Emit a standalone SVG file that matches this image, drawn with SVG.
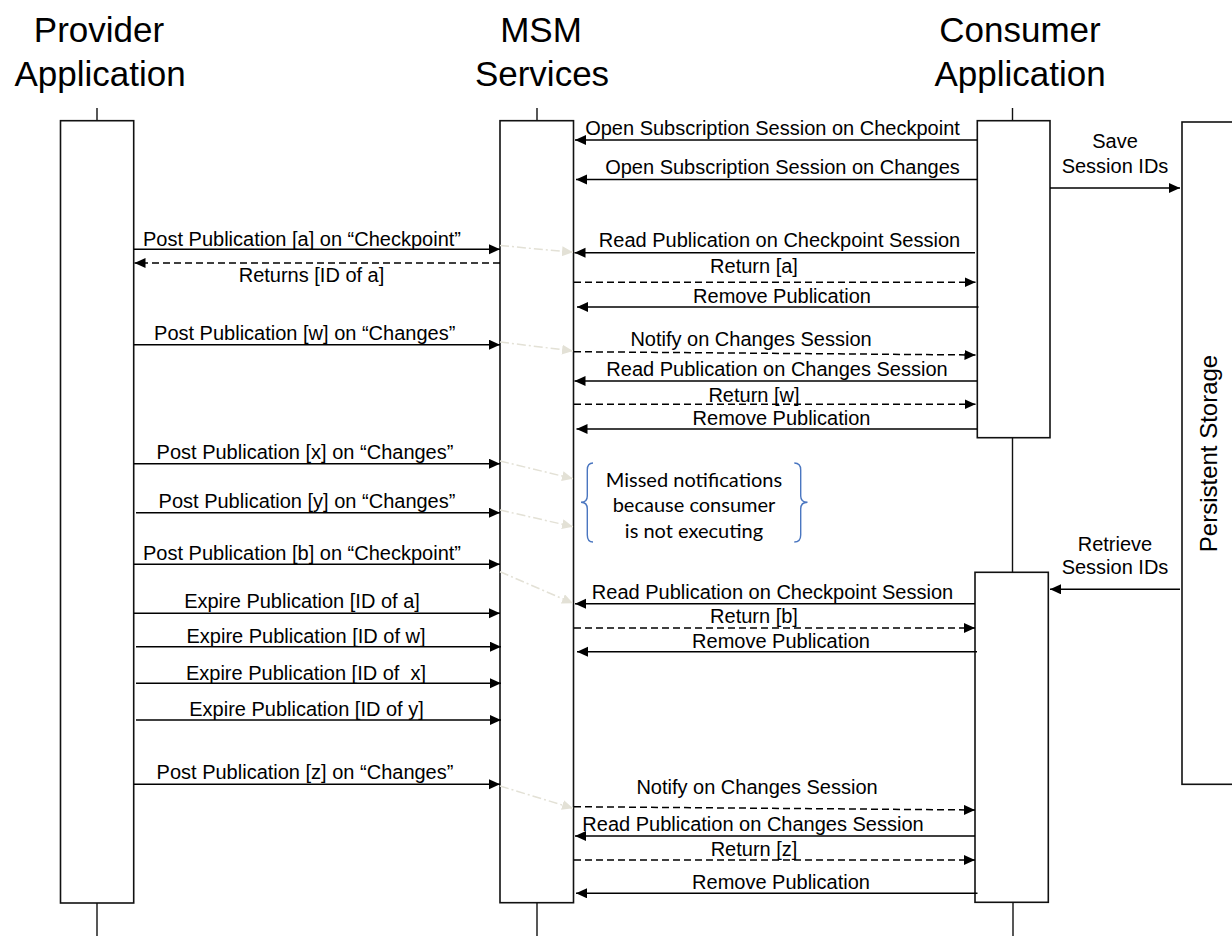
<svg xmlns="http://www.w3.org/2000/svg" width="1232" height="936" viewBox="0 0 1232 936">
  <style>
    .hdr { font-family: "Liberation Sans", Arial, sans-serif; font-size: 35px; fill: #000; text-anchor: middle; }
    .lbl { font-family: "Liberation Sans", Arial, sans-serif; font-size: 20px; fill: #000; text-anchor: middle; }
    .note { font-family: Lato, "Open Sans", sans-serif; font-size: 20px; fill: #000; text-anchor: middle; }
    .box { fill: #fff; stroke: #111; stroke-width: 1.6; }
    .life { stroke: #111; stroke-width: 1.4; fill: none; }
    .msg { stroke: #000; stroke-width: 1.5; fill: none; marker-end: url(#arrow); }
    .ret { stroke: #000; stroke-width: 1.5; fill: none; stroke-dasharray: 7 4; marker-end: url(#arrow); }
    .hint { stroke: #e3e1d6; stroke-width: 1.5; fill: none; stroke-dasharray: 9 3 2 3; marker-end: url(#arrowFaint); }
    .brace { stroke: #4a76c0; stroke-width: 1.4; fill: none; }
  </style>
  <defs>
    <marker id="arrow" markerUnits="userSpaceOnUse" markerWidth="12" markerHeight="12" refX="11" refY="5" orient="auto">
      <path d="M0,0 L11,5 L0,10 z" fill="#000"/>
    </marker>
    <marker id="arrowFaint" markerUnits="userSpaceOnUse" markerWidth="12" markerHeight="12" refX="11" refY="5" orient="auto">
      <path d="M0,0 L11,5 L0,10 z" fill="#e3e1d6"/>
    </marker>
  </defs>

  <rect width="1232" height="936" fill="#fff"/>

  <!-- Provider Application lifeline -->
  <g id="provider">
    <text class="hdr" x="99" y="42">Provider</text>
    <text class="hdr" x="100" y="86">Application</text>
    <line class="life" x1="97" y1="108" x2="97" y2="121"/>
    <line class="life" x1="97" y1="903" x2="97" y2="936"/>
    <rect class="box" x="60.5" y="120.7" width="73.2" height="782.3"/>
  </g>

  <!-- MSM Services lifeline -->
  <g id="msm">
    <text class="hdr" x="541" y="42">MSM</text>
    <text class="hdr" x="542" y="86">Services</text>
    <line class="life" x1="537" y1="108" x2="537" y2="121"/>
    <line class="life" x1="537" y1="903" x2="537" y2="936"/>
    <rect class="box" x="500" y="120.7" width="73.5" height="782"/>
  </g>

  <!-- Consumer Application lifeline: two activations -->
  <g id="consumer">
    <text class="hdr" x="1020" y="42">Consumer</text>
    <text class="hdr" x="1020" y="86">Application</text>
    <line class="life" x1="1012.5" y1="108" x2="1012.5" y2="121"/>
    <line class="life" x1="1012.5" y1="437.7" x2="1012.5" y2="572.3"/>
    <line class="life" x1="1013" y1="902.3" x2="1013" y2="936"/>
    <rect class="box" x="977.3" y="120.7" width="72.7" height="317"/>
    <rect class="box" x="975" y="572.3" width="73.3" height="330"/>
  </g>

  <!-- Persistent Storage -->
  <g id="storage">
    <rect class="box" x="1182" y="122" width="70" height="662.3"/>
    <text class="lbl" style="font-size:24px" transform="translate(1217,453.5) rotate(-90)">Persistent Storage</text>
  </g>

  <!-- Missed notifications note -->
  <g id="missed-note">
    <path class="brace" d="M593,463 Q587.3,463 587.3,470 L587.3,496 Q587.3,502.3 581,502.3 Q587.3,502.3 587.3,509 L587.3,535 Q587.3,542 593,542"/>
    <path class="brace" d="M794.3,463 Q800.7,463 800.7,470 L800.7,496 Q800.7,502.3 807.5,502.3 Q800.7,502.3 800.7,509 L800.7,535 Q800.7,542 794.3,542"/>
    <text class="note" x="694" y="486.7">Missed notifications</text>
    <text class="note" x="694" y="512">because consumer</text>
    <text class="note" x="694" y="537.7">is not executing</text>
  </g>

  <!-- Messages -->
  <g id="connectors">
    <!-- consumer subscribes -->
    <line class="msg" x1="977" y1="140" x2="575" y2="140"/>
    <text class="lbl" x="772.5" y="135">Open Subscription Session on Checkpoint</text>
    <line class="msg" x1="977" y1="179.5" x2="576" y2="179.5"/>
    <text class="lbl" x="782.5" y="174">Open Subscription Session on Changes</text>

    <!-- session ids to storage -->
    <line class="msg" x1="1050" y1="188" x2="1180" y2="188"/>
    <text class="lbl" x="1115" y="148.3">Save</text>
    <text class="lbl" x="1115" y="173.3">Session IDs</text>

    <!-- publication [a] -->
    <line class="msg" x1="134" y1="249.3" x2="500" y2="249.3"/>
    <text class="lbl" x="302" y="245.5">Post Publication [a] on “Checkpoint”</text>
    <line class="ret" x1="500" y1="263" x2="134.5" y2="263"/>
    <text class="lbl" x="311.5" y="281.7">Returns [ID of a]</text>
    <line class="hint" x1="500" y1="245.5" x2="573" y2="252.3"/>

    <line class="msg" x1="975" y1="252.7" x2="574.5" y2="252.7"/>
    <text class="lbl" x="779.5" y="247">Read Publication on Checkpoint Session</text>
    <line class="ret" x1="574" y1="282.3" x2="975.5" y2="282.3"/>
    <text class="lbl" x="754" y="273">Return [a]</text>
    <line class="msg" x1="978.5" y1="307" x2="577" y2="307"/>
    <text class="lbl" x="782" y="303">Remove Publication</text>

    <!-- publication [w] -->
    <line class="msg" x1="134" y1="344.7" x2="500" y2="344.7"/>
    <text class="lbl" x="304.7" y="340">Post Publication [w] on “Changes”</text>
    <line class="hint" x1="500" y1="342" x2="573" y2="351"/>

    <line class="ret" x1="574" y1="351.7" x2="975.5" y2="355"/>
    <text class="lbl" x="751" y="346">Notify on Changes Session</text>
    <line class="msg" x1="977" y1="381" x2="574.5" y2="381"/>
    <text class="lbl" x="777" y="376">Read Publication on Changes Session</text>
    <line class="ret" x1="574" y1="404.3" x2="975.5" y2="404.3"/>
    <text class="lbl" x="754" y="401.5">Return [w]</text>
    <line class="msg" x1="977" y1="429" x2="576.5" y2="429"/>
    <text class="lbl" x="781.5" y="425">Remove Publication</text>

    <!-- publications while the consumer is down -->
    <line class="msg" x1="134" y1="463.7" x2="500" y2="463.7"/>
    <text class="lbl" x="305" y="459.3">Post Publication [x] on “Changes”</text>
    <line class="hint" x1="500" y1="461" x2="573" y2="478.7"/>
    <line class="msg" x1="136" y1="512.7" x2="500" y2="512.7"/>
    <text class="lbl" x="307" y="508">Post Publication [y] on “Changes”</text>
    <line class="hint" x1="500" y1="510" x2="573" y2="526.7"/>
    <line class="msg" x1="134" y1="564.3" x2="500" y2="564.3"/>
    <text class="lbl" x="302" y="560">Post Publication [b] on “Checkpoint”</text>
    <line class="hint" x1="500" y1="571.7" x2="573" y2="603.3"/>

    <!-- expirations -->
    <line class="msg" x1="134" y1="613.3" x2="500" y2="613.3"/>
    <text class="lbl" x="302" y="608">Expire Publication [ID of a]</text>
    <line class="msg" x1="136" y1="646.7" x2="501" y2="646.7"/>
    <text class="lbl" x="306" y="642.7">Expire Publication [ID of w]</text>
    <line class="msg" x1="136" y1="683.3" x2="501" y2="683.3"/>
    <text class="lbl" x="306" y="680" xml:space="preserve">Expire Publication [ID of  x]</text>
    <line class="msg" x1="136" y1="720" x2="501" y2="720"/>
    <text class="lbl" x="306.5" y="716">Expire Publication [ID of y]</text>

    <!-- consumer restarts -->
    <line class="msg" x1="1180" y1="589.3" x2="1050" y2="589.3"/>
    <text class="lbl" x="1115" y="551">Retrieve</text>
    <text class="lbl" x="1115" y="574.3">Session IDs</text>

    <line class="msg" x1="975" y1="603.7" x2="575" y2="603.7"/>
    <text class="lbl" x="772.5" y="599">Read Publication on Checkpoint Session</text>
    <line class="ret" x1="574" y1="628" x2="975" y2="628"/>
    <text class="lbl" x="754" y="623">Return [b]</text>
    <line class="msg" x1="977" y1="651.7" x2="577" y2="651.7"/>
    <text class="lbl" x="781" y="648">Remove Publication</text>

    <!-- publication [z] -->
    <line class="msg" x1="134" y1="784.3" x2="500" y2="784.3"/>
    <text class="lbl" x="305" y="779.3">Post Publication [z] on “Changes”</text>
    <line class="hint" x1="500" y1="786" x2="573" y2="808.3"/>

    <line class="ret" x1="574" y1="806.7" x2="975" y2="810"/>
    <text class="lbl" x="757" y="794">Notify on Changes Session</text>
    <line class="msg" x1="975" y1="836" x2="575" y2="836"/>
    <text class="lbl" x="753" y="831">Read Publication on Changes Session</text>
    <line class="ret" x1="574" y1="860" x2="975" y2="860"/>
    <text class="lbl" x="754" y="856">Return [z]</text>
    <line class="msg" x1="977.5" y1="893.3" x2="576" y2="893.3"/>
    <text class="lbl" x="781" y="889">Remove Publication</text>
  </g>
</svg>
